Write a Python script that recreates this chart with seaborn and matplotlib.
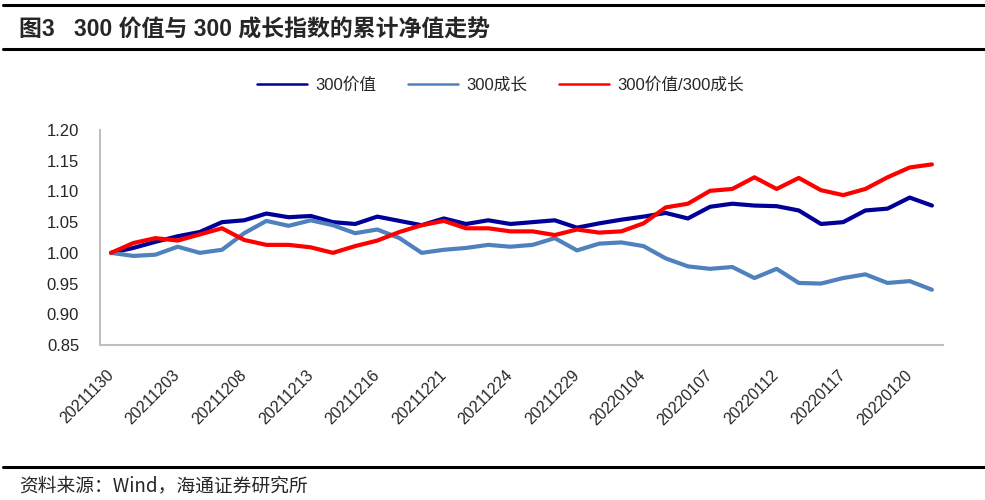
import numpy as np
import pandas as pd
import matplotlib.pyplot as plt
import seaborn as sns
from matplotlib.lines import Line2D
from matplotlib.ticker import FixedLocator, FixedFormatter

# 交易日 20211130 - 20220121
dates = ["20211130", "20211201", "20211202", "20211203", "20211206", "20211207",
         "20211208", "20211209", "20211210", "20211213", "20211214", "20211215",
         "20211216", "20211217", "20211220", "20211221", "20211222", "20211223",
         "20211224", "20211227", "20211228", "20211229", "20211230", "20211231",
         "20220104", "20220105", "20220106", "20220107", "20220110", "20220111",
         "20220112", "20220113", "20220114", "20220117", "20220118", "20220119",
         "20220120", "20220121"]

value_300 = [1.000, 1.008, 1.018, 1.027, 1.034, 1.050, 1.053, 1.064, 1.058, 1.060,
             1.050, 1.047, 1.059, 1.052, 1.045, 1.056, 1.047, 1.053, 1.047, 1.050,
             1.053, 1.041, 1.048, 1.054, 1.059, 1.065, 1.056, 1.075, 1.080, 1.077,
             1.076, 1.069, 1.047, 1.050, 1.069, 1.072, 1.090, 1.077]

growth_300 = [1.000, 0.995, 0.997, 1.010, 1.000, 1.005, 1.032, 1.052, 1.044, 1.053,
              1.045, 1.032, 1.038, 1.024, 1.000, 1.005, 1.008, 1.013, 1.010, 1.013,
              1.024, 1.004, 1.015, 1.017, 1.011, 0.991, 0.978, 0.974, 0.977, 0.959,
              0.974, 0.951, 0.950, 0.959, 0.965, 0.951, 0.954, 0.940]

ratio = [1.000, 1.016, 1.024, 1.020, 1.030, 1.040, 1.021, 1.013, 1.013, 1.009,
         1.000, 1.011, 1.020, 1.034, 1.045, 1.052, 1.040, 1.040, 1.035, 1.035,
         1.029, 1.038, 1.033, 1.035, 1.048, 1.074, 1.080, 1.101, 1.104, 1.123,
         1.104, 1.122, 1.102, 1.094, 1.104, 1.123, 1.139, 1.144]

series_names = ["300价值", "300成长", "300价值/300成长"]
colors = ["#000099", "#4F81BD", "#FF0000"]

yticks = [0.85, 0.90, 0.95, 1.00, 1.05, 1.10, 1.15, 1.20]

df = pd.DataFrame({"x": np.arange(len(dates)),
                   series_names[0]: value_300,
                   series_names[1]: growth_300,
                   series_names[2]: ratio})
long = df.melt(id_vars="x", var_name="series", value_name="nav")

sns.set_style("white")
plt.rcParams['font.family'] = ['Liberation Sans', 'Noto Sans CJK SC', 'DejaVu Sans']

fig = plt.figure(figsize=(9.85, 5.0), dpi=100)
ax = fig.add_axes([100 / 985, 1 - 345 / 500, (943 - 100) / 985, (345 - 130) / 500])

sns.lineplot(data=long, x="x", y="nav", hue="series", hue_order=series_names,
             palette=colors, linewidth=3.0, legend=False, ax=ax)

ax.set_xlim(-0.5, len(dates) - 0.5)
ax.set_ylim(0.85, 1.20)
ax.set_xlabel("")
ax.set_ylabel("")

# y axis
ax.set_yticks(yticks)
ax.set_yticklabels([f"{v:.2f}" for v in yticks], fontsize=12)
ax.tick_params(axis="y", direction="in", length=5, width=1.5, color="#BFBFBF", pad=15)

# x axis: labels every 3 days, tick marks between categories
lab_pos = list(range(0, len(dates), 3))
ax.xaxis.set_major_locator(FixedLocator(lab_pos))
ax.xaxis.set_major_formatter(FixedFormatter([dates[i] for i in lab_pos]))
ax.xaxis.set_minor_locator(FixedLocator([p - 0.5 for p in lab_pos]))
ax.tick_params(axis="x", which="major", length=0, pad=20, labelsize=11.5)
ax.tick_params(axis="x", which="minor", direction="in", length=5, width=1.5, color="#BFBFBF")
for lab in ax.get_xticklabels():
    lab.set_rotation(45)
    lab.set_ha("right")
    lab.set_va("center")
    lab.set_rotation_mode("anchor")

for side in ["top", "right"]:
    ax.spines[side].set_visible(False)
for side in ["left", "bottom"]:
    ax.spines[side].set_color("#BFBFBF")
    ax.spines[side].set_linewidth(1.5)

# legend
handles = [Line2D([], [], color=c, lw=1.8) for c in colors]
fig.legend(handles, series_names, loc="center", bbox_to_anchor=(500 / 985, 1 - 85 / 500),
           ncol=3, frameon=False, fontsize=12, handlelength=3.0, handletextpad=0.5,
           columnspacing=1.9)

# title and source
fig.text(19 / 985, 1 - 30 / 500, "图3   300 价值与 300 成长指数的累计净值走势",
         fontsize=16.5, fontweight="bold", va="center", ha="left",
         family=['Liberation Sans', 'Noto Sans CJK SC'])
fig.text(19 / 985, 1 - 486 / 500, "资料来源：Wind，海通证券研究所",
         fontsize=13.5, va="center", ha="left",
         family=['Noto Sans CJK SC', 'Liberation Sans'])

for yy in [5, 49, 467]:
    fig.add_artist(Line2D([3 / 985, 1.0], [1 - yy / 500, 1 - yy / 500],
                          transform=fig.transFigure, color="black", lw=2.2))

fig.savefig("out.png", dpi=100)
